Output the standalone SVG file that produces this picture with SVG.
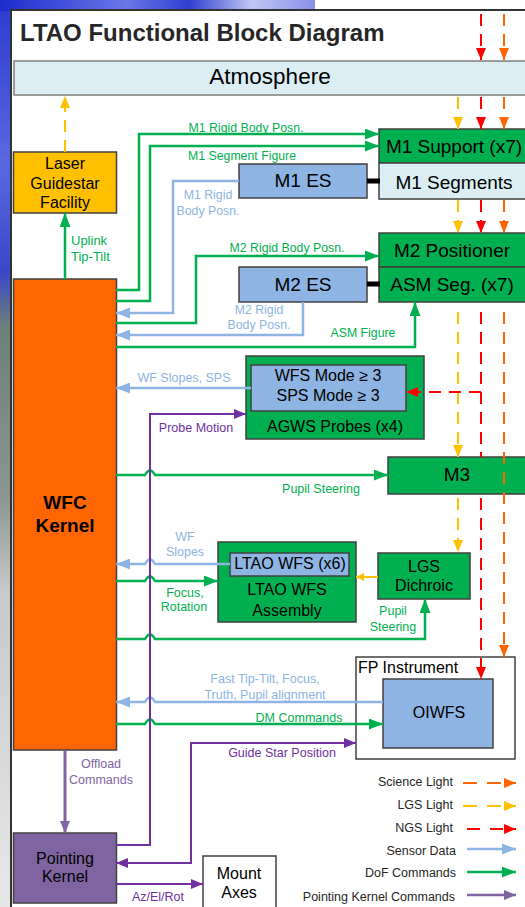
<svg xmlns="http://www.w3.org/2000/svg" width="525" height="907" viewBox="0 0 525 907">
<style>
text{font-family:"Liberation Sans",Arial,sans-serif;}
.box{stroke:#404040;stroke-width:1.5;}
.grn{fill:#00B050;}
.blu{fill:#8EB4E3;}
.lbl{font-size:12.3px;}
.nt{font-size:19px;fill:#000;text-anchor:middle;}
.ns{font-size:16px;fill:#000;text-anchor:middle;}
.tg{fill:#00B050;}
.tb{fill:#8EB4E3;}
.tp{fill:#7030A0;}
.c{text-anchor:middle;}
.lg{stroke:#00B050;stroke-width:2.5;fill:none;}
.lb{stroke:#8EB4E3;stroke-width:2.5;fill:none;}
.lp{stroke:#7030A0;stroke-width:2;fill:none;}
.ly{stroke:#FFC000;stroke-width:2;fill:none;stroke-dasharray:12 8;}
.lr{stroke:#FF0000;stroke-width:2;fill:none;stroke-dasharray:12 8;}
.lo{stroke:#FF6600;stroke-width:2;fill:none;stroke-dasharray:12 8;}
.leg{font-size:12.5px;fill:#262626;text-anchor:end;}
</style>
<defs>
<linearGradient id="bgL" x1="0" y1="0" x2="0" y2="1">
<stop offset="0" stop-color="#2a3bd0"/>
<stop offset="0.18" stop-color="#5a68e0"/>
<stop offset="0.3" stop-color="#3a48c8"/>
<stop offset="0.36" stop-color="#6d7f78"/>
<stop offset="0.55" stop-color="#8d9690"/>
<stop offset="0.65" stop-color="#c8c8c8"/>
<stop offset="1" stop-color="#e8e8e8"/>
</linearGradient>
<linearGradient id="bgT" x1="0" y1="0" x2="1" y2="0">
<stop offset="0" stop-color="#1d2bd0"/>
<stop offset="0.4" stop-color="#6a76e6"/>
<stop offset="0.6" stop-color="#3040d0"/>
<stop offset="0.8" stop-color="#c0c6f4"/>
<stop offset="1" stop-color="#8890e8"/>
</linearGradient>
<marker id="ag" viewBox="0 0 14 11" refX="14" refY="5.5" markerWidth="14" markerHeight="11" markerUnits="userSpaceOnUse" orient="auto"><path d="M0,0L14,5.5L0,11z" fill="#00B050"/></marker>
<marker id="ab" viewBox="0 0 14 11" refX="14" refY="5.5" markerWidth="14" markerHeight="11" markerUnits="userSpaceOnUse" orient="auto"><path d="M0,0L14,5.5L0,11z" fill="#8EB4E3"/></marker>
<marker id="ap" viewBox="0 0 12 10" refX="12" refY="5" markerWidth="12" markerHeight="10" markerUnits="userSpaceOnUse" orient="auto-start-reverse"><path d="M0,0L12,5L0,10z" fill="#7030A0"/></marker>
<marker id="ap2" viewBox="0 0 12 10" refX="12" refY="5" markerWidth="12" markerHeight="10" markerUnits="userSpaceOnUse" orient="auto"><path d="M0,0L12,5L0,10z" fill="#8064A2"/></marker>
<marker id="ay" viewBox="0 0 12 10" refX="12" refY="5" markerWidth="12" markerHeight="10" markerUnits="userSpaceOnUse" orient="auto"><path d="M0,0L12,5L0,10z" fill="#FFC000"/></marker>
<marker id="ays" viewBox="0 0 8 8" refX="8" refY="4" markerWidth="8" markerHeight="8" markerUnits="userSpaceOnUse" orient="auto"><path d="M0,0L8,4L0,8z" fill="#FFC000"/></marker>
<marker id="ar" viewBox="0 0 12 10" refX="12" refY="5" markerWidth="12" markerHeight="10" markerUnits="userSpaceOnUse" orient="auto"><path d="M0,0L12,5L0,10z" fill="#FF0000"/></marker>
<marker id="ao" viewBox="0 0 12 10" refX="12" refY="5" markerWidth="12" markerHeight="10" markerUnits="userSpaceOnUse" orient="auto"><path d="M0,0L12,5L0,10z" fill="#FF6600"/></marker>
</defs>

<!-- background photo approximation -->
<rect x="0" y="0" width="525" height="907" fill="#ffffff"/>
<rect x="0" y="0" width="12" height="907" fill="url(#bgL)"/>
<rect x="0" y="0" width="315" height="11" fill="url(#bgT)"/>

<!-- frame -->
<rect x="11" y="10" width="530" height="910" fill="#ffffff" stroke="#333333" stroke-width="2"/>
<text x="20" y="41" font-size="24" font-weight="bold" fill="#262626">LTAO Functional Block Diagram</text>

<g id="atmosphere">
<rect x="14" y="61" width="520" height="34" fill="#DAEEF3" stroke="#7f7f7f" stroke-width="1.5"/>
<text x="270" y="84" font-size="22.5" class="c" fill="#000">Atmosphere</text>
</g>

<g id="lgf">
<rect class="box" x="13.5" y="152" width="103" height="61" fill="#FFC000"/>
<text class="ns" x="65" y="169">Laser</text>
<text class="ns" x="65" y="189">Guidestar</text>
<text class="ns" x="65" y="208">Facility</text>
</g>

<g id="wfc">
<rect class="box" x="13.5" y="279" width="103" height="471" fill="#FF6600"/>
<text x="65" y="509" font-size="19" font-weight="bold" class="c" fill="#000">WFC</text>
<text x="65" y="532" font-size="19" font-weight="bold" class="c" fill="#000">Kernel</text>
</g>

<g id="m1">
<rect class="box grn" x="379" y="129" width="150" height="34"/>
<rect class="box" x="379" y="163" width="150" height="36" fill="#DAEEF3"/>
<text class="nt" x="454" y="153">M1 Support (x7)</text>
<text class="nt" x="454" y="189" font-size="18.5">M1 Segments</text>
</g>

<g id="m1es">
<rect class="box blu" x="239" y="164" width="128" height="34"/>
<text class="nt" x="303" y="187">M1 ES</text>
</g>

<g id="m2">
<rect class="box grn" x="379" y="233" width="150" height="34"/>
<rect class="box grn" x="379" y="267" width="150" height="35"/>
<text class="nt" x="452" y="257">M2 Positioner</text>
<text class="nt" x="452" y="291">ASM Seg. (x7)</text>
</g>

<g id="m2es">
<rect class="box blu" x="239" y="267" width="128" height="35"/>
<text class="nt" x="303" y="291">M2 ES</text>
</g>

<g id="agws">
<rect class="box grn" x="246" y="356" width="178" height="83"/>
<rect class="box blu" x="251" y="365" width="155" height="46"/>
<text class="ns" x="328" y="381">WFS Mode ≥ 3</text>
<text class="ns" x="328" y="401">SPS Mode ≥ 3</text>
<text class="ns" x="335" y="432" font-size="18">AGWS Probes (x4)</text>
</g>

<g id="m3">
<rect class="box grn" x="388" y="457" width="145" height="37"/>
<text class="nt" x="457" y="481">M3</text>
</g>

<g id="ltaowfs">
<rect class="box grn" x="218" y="542" width="138" height="80"/>
<rect class="box blu" x="230" y="553" width="119" height="23"/>
<text class="ns" x="290" y="569">LTAO WFS (x6)</text>
<text class="ns" x="287" y="595" font-size="18">LTAO WFS</text>
<text class="ns" x="287" y="616" font-size="18">Assembly</text>
</g>

<g id="lgsdichroic">
<rect class="box grn" x="378" y="553" width="92" height="46"/>
<text class="ns" x="424" y="572">LGS</text>
<text class="ns" x="424" y="591">Dichroic</text>
</g>

<g id="fpinstrument">
<rect class="box" x="356" y="657" width="159" height="102" fill="#ffffff"/>
<text x="358" y="673" font-size="16" fill="#000">FP Instrument</text>
</g>

<g id="oiwfs">
<rect class="box blu" x="383" y="679" width="110" height="69"/>
<text class="ns" x="439" y="718">OIWFS</text>
</g>

<g id="pointing">
<rect class="box" x="13.5" y="833" width="103" height="70" fill="#8064A2"/>
<text class="ns" x="65" y="864">Pointing</text>
<text class="ns" x="65" y="882">Kernel</text>
</g>

<g id="mount">
<rect class="box" x="203" y="856" width="73" height="60" fill="#ffffff"/>
<text class="ns" x="239" y="879">Mount</text>
<text class="ns" x="239" y="898">Axes</text>
</g>

<g id="connectors">
<!-- light paths -->
<path class="lr" d="M481,14V60" marker-end="url(#ar)"/>
<path class="lo" d="M504,14V60" marker-end="url(#ao)"/>
<path class="ly" d="M458,97V129" marker-end="url(#ay)"/>
<path class="lr" d="M481,97V129" marker-end="url(#ar)"/>
<path class="lo" d="M504,97V129" marker-end="url(#ao)"/>
<path class="ly" d="M65,152V96" marker-end="url(#ay)"/>
<path class="ly" d="M458,200V233" marker-end="url(#ay)"/>
<path class="lr" d="M481,200V233" marker-end="url(#ar)"/>
<path class="lo" d="M504,200V233" marker-end="url(#ao)"/>
<path class="ly" d="M458,312V457" marker-end="url(#ay)"/>
<path class="lr" d="M481,312V457"/>
<path class="lr" d="M481,392H406" marker-end="url(#ar)"/>
<path class="lo" d="M504,312V657" marker-end="url(#ao)"/>
<path class="ly" d="M458,498V552" marker-end="url(#ay)"/>
<path class="lr" d="M481,498V679" marker-end="url(#ar)"/>
<path d="M378,577H356" stroke="#FFC000" stroke-width="2" fill="none" marker-end="url(#ays)"/>
<!-- mechanical links -->
<path d="M367,181H380M367,284H380" stroke="#000" stroke-width="5" fill="none"/>
<!-- DoF commands -->
<path class="lg" d="M65,279V213" marker-end="url(#ag)"/>
<path class="lg" d="M116,290H139V134H379" marker-end="url(#ag)"/>
<path class="lg" d="M116,301H150V146H379" marker-end="url(#ag)"/>
<path class="lg" d="M116,323H196V256H379" marker-end="url(#ag)"/>
<path class="lg" d="M116,347H415V302" marker-end="url(#ag)"/>
<path class="lg" d="M116,475H145Q150,466 155,475H388" marker-end="url(#ag)"/>
<path class="lg" d="M116,581H145Q150,572 155,581H218" marker-end="url(#ag)"/>
<path class="lg" d="M116,639H145Q150,630 155,639H425V599" marker-end="url(#ag)"/>
<path class="lg" d="M116,724H145Q150,715 155,724H383" marker-end="url(#ag)"/>
<!-- sensor data -->
<path class="lb" d="M239,181H173V313H116" marker-end="url(#ab)"/>
<path class="lb" d="M303,302V335H116" marker-end="url(#ab)"/>
<path class="lb" d="M251,388H116" marker-end="url(#ab)"/>
<path class="lb" d="M230,564H155Q150,555 145,564H116" marker-end="url(#ab)"/>
<path class="lb" d="M383,702H155Q150,693 145,702H116" marker-end="url(#ab)"/>
<!-- pointing kernel commands -->
<path class="lp" d="M116,845H150V414H246" marker-end="url(#ap)"/>
<path class="lp" d="M356,743H191V863H116" stroke-width="2.5" marker-start="url(#ap)" marker-end="url(#ap)"/>
<path d="M65,750V833" stroke="#8064A2" stroke-width="3" fill="none" marker-end="url(#ap2)"/>
<path class="lp" d="M116,884H203" stroke-width="2.5" marker-end="url(#ap)"/>
</g>

<g id="labels" class="lbl">
<text class="tg" x="71" y="245" font-size="13">Uplink</text>
<text class="tg" x="71" y="261" font-size="13">Tip-Tilt</text>
<text class="tg c" x="246" y="132">M1 Rigid Body Posn.</text>
<text class="tg c" x="242" y="160">M1 Segment Figure</text>
<text class="tb c" x="208" y="199">M1 Rigid</text>
<text class="tb c" x="208" y="215">Body Posn.</text>
<text class="tg c" x="287" y="252">M2 Rigid Body Posn.</text>
<text class="tb c" x="259" y="314">M2 Rigid</text>
<text class="tb c" x="259" y="329">Body Posn.</text>
<text class="tg c" x="363" y="337">ASM Figure</text>
<text class="tb c" x="184" y="382" font-size="12.5">WF Slopes, SPS</text>
<text class="tp c" x="196" y="432" font-size="12.5">Probe Motion</text>
<text class="tg c" x="321" y="493" font-size="12.5">Pupil Steering</text>
<text class="tb c" x="185" y="541" font-size="12.5">WF</text>
<text class="tb c" x="185" y="556" font-size="12.5">Slopes</text>
<text class="tg c" x="185" y="597" font-size="12.5">Focus,</text>
<text class="tg c" x="184" y="611" font-size="12.5">Rotation</text>
<text class="tg c" x="393" y="615" font-size="12.5">Pupil</text>
<text class="tg c" x="393" y="631" font-size="12.5">Steering</text>
<text class="tb c" x="265" y="683" font-size="12.5">Fast Tip-Tilt, Focus,</text>
<text class="tb c" x="265" y="699" font-size="12.5">Truth, Pupil alignment</text>
<text class="tg c" x="299" y="722" font-size="12.5">DM Commands</text>
<text class="tp c" x="282" y="757" font-size="12.5">Guide Star Position</text>
<text class="c" x="101" y="768" font-size="12.5" fill="#8064A2">Offload</text>
<text class="c" x="101" y="784" font-size="12.5" fill="#8064A2">Commands</text>
<text class="tp c" x="158" y="901" font-size="12.5">Az/El/Rot</text>
</g>

<g id="legend">
<text class="leg" x="453" y="786">Science Light</text>
<text class="leg" x="453" y="809">LGS Light</text>
<text class="leg" x="453" y="832">NGS Light</text>
<text class="leg" x="456" y="855">Sensor Data</text>
<text class="leg" x="456" y="877">DoF Commands</text>
<text class="leg" x="455" y="901">Pointing Kernel Commands</text>
<path d="M463,783H516" stroke="#FF6600" stroke-width="2" stroke-dasharray="14 10" fill="none" marker-end="url(#ao)"/>
<path d="M463,806H516" stroke="#FFC000" stroke-width="2" stroke-dasharray="14 10" fill="none" marker-end="url(#ay)"/>
<path d="M467,829H516" stroke="#FF0000" stroke-width="2" stroke-dasharray="13 10" fill="none" marker-end="url(#ar)"/>
<path d="M467,849H516" stroke="#8EB4E3" stroke-width="2.5" fill="none" marker-end="url(#ab)"/>
<path d="M467,872H516" stroke="#00B050" stroke-width="2.5" fill="none" marker-end="url(#ag)"/>
<path d="M467,895H516" stroke="#8064A2" stroke-width="2.5" fill="none" marker-end="url(#ap2)"/>
</g>
</svg>
